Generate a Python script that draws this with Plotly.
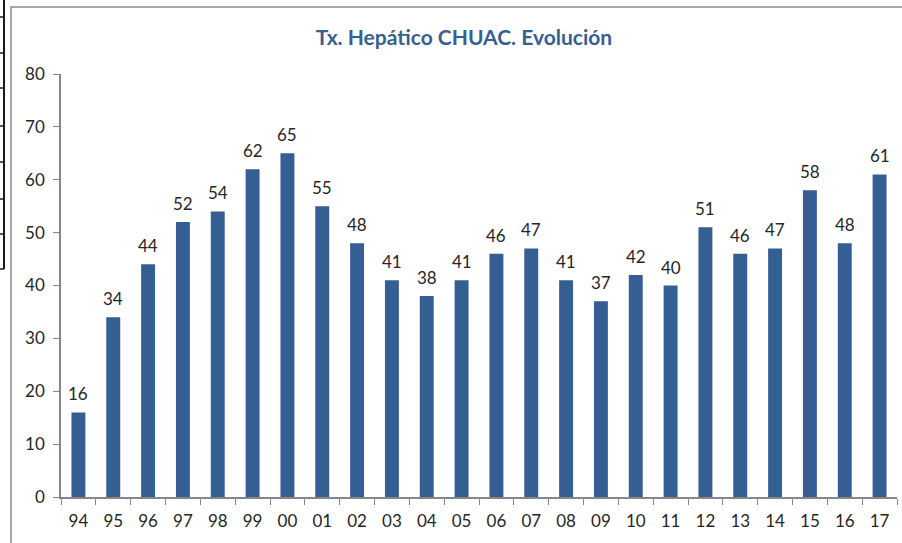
import plotly.graph_objects as go

years = ["94", "95", "96", "97", "98", "99", "00", "01", "02", "03", "04", "05",
         "06", "07", "08", "09", "10", "11", "12", "13", "14", "15", "16", "17"]
transplants = [16, 34, 44, 52, 54, 62, 65, 55, 48, 41, 38, 41,
               46, 47, 41, 37, 42, 40, 51, 46, 47, 58, 48, 61]

W, H = 902, 543
L, R, T, B = 61, 5, 74, 46
pw, ph = W - L - R, H - T - B


def px(x):
    return (x - L) / pw


def py(y):
    return (H - B - y) / ph


fig = go.Figure()
fig.add_trace(go.Bar(
    x=years, y=transplants,
    marker=dict(color="#355F93", line=dict(width=0)),
    width=0.4,
))

# value labels above the bars (x given as category index, since "00".."17"
# would otherwise be read as numbers)
labels = [dict(x=i, y=v, text=str(v), showarrow=False,
               xanchor="center", yanchor="bottom", yshift=6,
               font=dict(size=17, color="#262626"))
          for i, v in enumerate(transplants)]

shapes = [
    # chart frame
    dict(type="rect", xref="paper", yref="paper",
         x0=px(11), x1=px(917), y0=py(560), y1=py(7),
         line=dict(color="#8C8C8C", width=1.5)),
    # leftover worksheet border
    dict(type="line", xref="paper", yref="paper",
         x0=px(4), x1=px(4), y0=py(0), y1=py(269),
         line=dict(color="#1A1A1A", width=2)),
]
for yy in [17, 53, 88, 126, 162, 199, 234, 269]:
    shapes.append(dict(type="line", xref="paper", yref="paper",
                       x0=px(0), x1=px(4), y0=py(yy), y1=py(yy),
                       line=dict(color="#1A1A1A", width=1.5)))

fig.update_layout(
    width=W, height=H,
    margin=dict(l=L, r=R, t=T, b=B),
    paper_bgcolor="white", plot_bgcolor="white",
    font=dict(family="Lato, Open Sans, sans-serif", size=17, color="#262626"),
    title=dict(text="<b>Tx. Hepático CHUAC. Evolución</b>",
               x=464 / W, xanchor="center", y=1 - 38 / H, yanchor="middle",
               font=dict(size=21, color="#376092")),
    showlegend=False,
    bargap=0.6,
    shapes=shapes,
    annotations=labels,
)
fig.update_xaxes(
    type="category",
    range=[-0.5, len(years) - 0.5],
    showline=True, linecolor="#868686", linewidth=1.5,
    ticks="outside", ticklen=6, tickcolor="#868686", tickson="boundaries",
    ticklabelstandoff=8,
    showgrid=False,
)
fig.update_yaxes(
    range=[0, 80], dtick=10,
    showline=True, linecolor="#868686", linewidth=1.5,
    ticks="outside", ticklen=6, tickcolor="#868686",
    ticklabelstandoff=5,
    showgrid=False, zeroline=False,
)

fig.write_html("out.html", config={"displayModeBar": False},
               post_script="document.body.style.margin='0';")
